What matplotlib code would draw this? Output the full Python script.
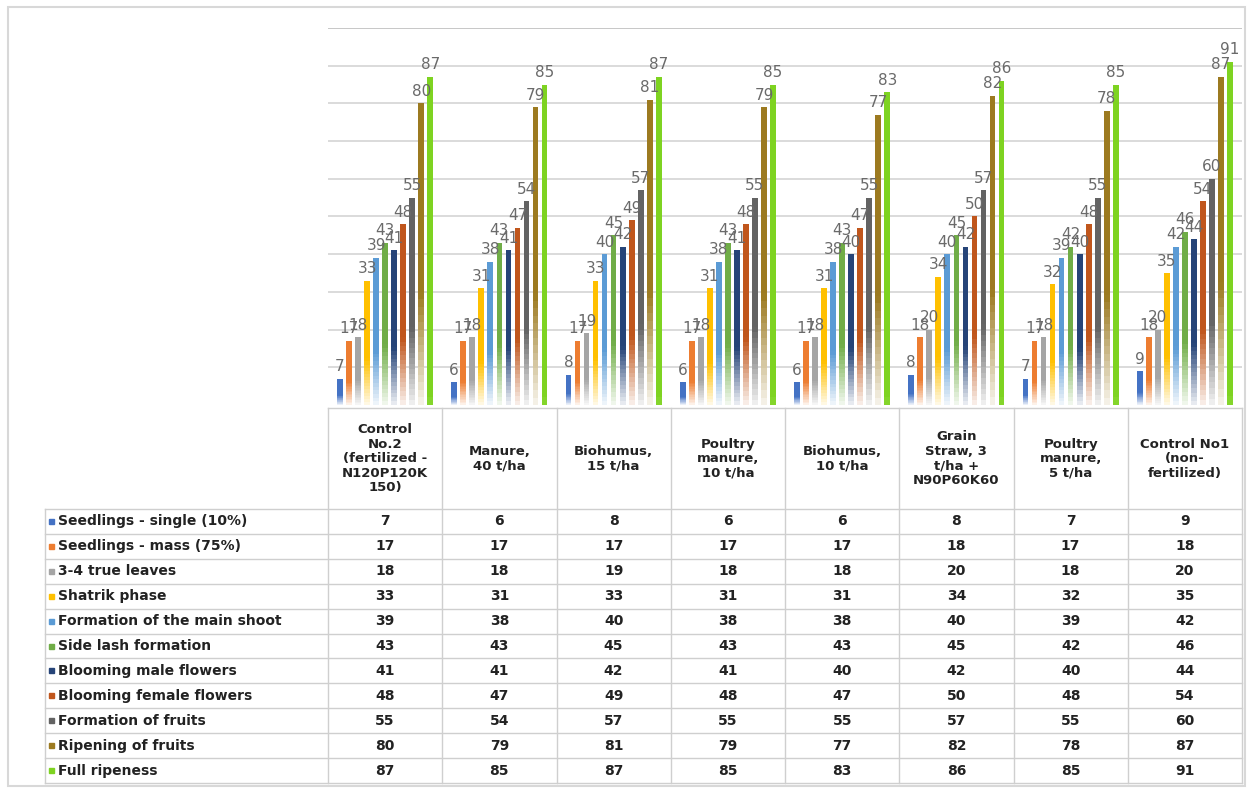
import numpy as np
import matplotlib.pyplot as plt
from matplotlib.colors import to_rgb

# categorías (variantes de fertilización)
categories = ["Control\nNo.2\n(fertilized -\nN120P120K\n150)", "Manure,\n40 t/ha",
              "Biohumus,\n15 t/ha", "Poultry\nmanure,\n10 t/ha", "Biohumus,\n10 t/ha",
              "Grain\nStraw, 3\nt/ha +\nN90P60K60", "Poultry\nmanure,\n5 t/ha",
              "Control No1\n(non-\nfertilized)"]

series_names = ["Seedlings - single (10%)", "Seedlings - mass (75%)", "3-4 true leaves",
                "Shatrik phase", "Formation of the main shoot", "Side lash formation",
                "Blooming male flowers", "Blooming female flowers", "Formation of fruits",
                "Ripening of fruits", "Full ripeness"]

seedlings_single = [7, 6, 8, 6, 6, 8, 7, 9]
seedlings_mass = [17, 17, 17, 17, 17, 18, 17, 18]
true_leaves = [18, 18, 19, 18, 18, 20, 18, 20]
shatrik = [33, 31, 33, 31, 31, 34, 32, 35]
main_shoot = [39, 38, 40, 38, 38, 40, 39, 42]
side_lash = [43, 43, 45, 43, 43, 45, 42, 46]
male_flowers = [41, 41, 42, 41, 40, 42, 40, 44]
female_flowers = [48, 47, 49, 48, 47, 50, 48, 54]
fruit_formation = [55, 54, 57, 55, 55, 57, 55, 60]
ripening = [80, 79, 81, 79, 77, 82, 78, 87]
full_ripeness = [87, 85, 87, 85, 83, 86, 85, 91]

series = [seedlings_single, seedlings_mass, true_leaves, shatrik, main_shoot, side_lash,
          male_flowers, female_flowers, fruit_formation, ripening, full_ripeness]

colors = ['#4472C4', '#ED7D31', '#A5A5A5', '#FFC000', '#5B9BD5', '#70AD47',
          '#264478', '#C0561C', '#636363', '#9C7A20', '#7ED321']

W, H = 1252, 789
fig = plt.figure(figsize=(W / 100, H / 100), dpi=100)

# capa de fondo en píxeles para la tabla y el marco
bg = fig.add_axes([0, 0, 1, 1])
bg.set_xlim(0, W)
bg.set_ylim(H, 0)
bg.axis('off')

left, right = 328, 1242
top, base = 28, 405
ax = fig.add_axes([left / W, 1 - base / H, (right - left) / W, (base - top) / H])
for s in ax.spines.values():
    s.set_visible(False)
ax.set_xticks([])
ax.set_yticks([])
for g in range(10, 101, 10):
    ax.axhline(g, color='#d4d4d4' if g < 100 else '#bdbdbd', lw=1.2, zorder=0)

x = np.arange(len(categories))
slot = 0.079
bw = 0.05
lab = '#6a6a6a'
nseg = 40
for i, (vals, c) in enumerate(zip(series, colors)):
    xs = x + (i - 5) * slot
    rgb = np.array(to_rgb(c))
    for xi, v in zip(xs, vals):
        # barra con degradado hacia blanco en la base
        edges = np.linspace(0, v, nseg + 1)
        mid = (np.arange(nseg) + 0.5) / nseg
        if i == len(series) - 1:
            t = np.clip(0.8 + mid / 0.08, 0, 1)
        else:
            t = np.clip(0.08 + mid / 0.4, 0, 1)
        cols = [tuple(1 - tk + tk * rgb) for tk in t]
        ax.bar([xi] * nseg, np.diff(edges), bottom=edges[:-1], width=bw, color=cols,
               linewidth=0, antialiased=False, zorder=2)
        ax.text(xi, v + 1.2, str(v), ha='center', va='bottom', fontsize=11,
                color=lab, zorder=5)

ax.set_xlim(-0.5, 7.5)
ax.set_ylim(0, 100)

# tabla de datos
line = '#cfcfcf'
colw = (right - left) / len(categories)
hdr_top, rows_top, rows_bot = 408, 509, 783
rowh = (rows_bot - rows_top) / len(series)
tab_left = 45

bg.plot([left, right], [hdr_top, hdr_top], color=line, lw=1)
for k in range(len(categories) + 1):
    xx = left + k * colw
    bg.plot([xx, xx], [hdr_top, rows_bot], color=line, lw=1)
bg.plot([tab_left, tab_left], [rows_top, rows_bot], color=line, lw=1)
for r in range(len(series) + 1):
    yy = rows_top + r * rowh
    bg.plot([tab_left, right], [yy, yy], color=line, lw=1)

for k, name in enumerate(categories):
    bg.text(left + (k + 0.5) * colw, (hdr_top + rows_top) / 2, name, ha='center',
            va='center', fontsize=9.5, fontweight='bold', color='#222222',
            linespacing=1.15)

for r, (name, vals, c) in enumerate(zip(series_names, series, colors)):
    yc = rows_top + (r + 0.5) * rowh
    bg.add_patch(plt.Rectangle((49, yc - 2.5), 5, 5, color=c))
    bg.text(58, yc, name, ha='left', va='center', fontsize=10, fontweight='bold',
            color='#222222')
    for k, v in enumerate(vals):
        bg.text(left + (k + 0.5) * colw, yc, str(v), ha='center', va='center',
                fontsize=10, fontweight='bold', color='#222222')

# marco exterior
bg.add_patch(plt.Rectangle((8, 7), 1237, 779, fill=False, edgecolor='#d8d8d8', lw=1.5))

fig.savefig('out.png', dpi=100)
